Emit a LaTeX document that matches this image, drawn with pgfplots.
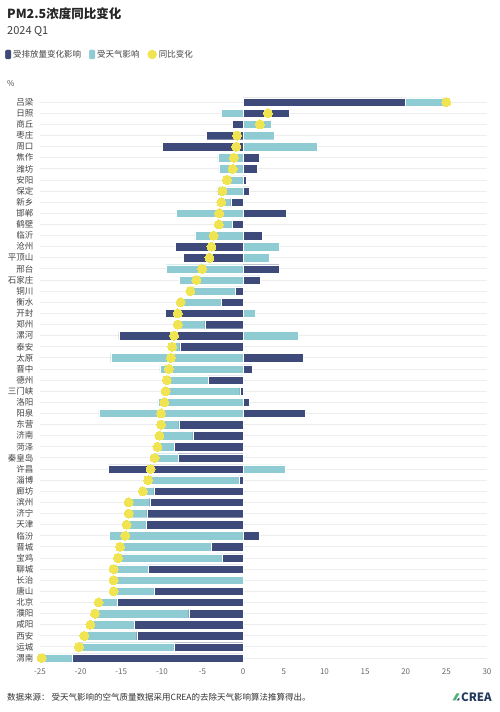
\documentclass[border=0pt]{standalone}
\usepackage{fontspec}
\setmainfont{Noto Sans CJK SC}
\usepackage{pgfplots}
\usepackage{pgfplotstable}
\pgfplotsset{compat=1.18}
\definecolor{darkc}{HTML}{3D4A7A}
\definecolor{lightc}{HTML}{8FCBD3}
\definecolor{yel}{HTML}{F0E452}
\definecolor{txt}{HTML}{444444}
\definecolor{tick}{HTML}{6A6A6A}
\definecolor{grd}{HTML}{EDEDED}
\definecolor{creag}{HTML}{4DB37A}
\definecolor{crean}{HTML}{23395D}

\pgfplotstableread{
i dark weather total
0 19.9 5.1 25.0
1 5.7 -2.65 3.05
2 -1.35 3.4 2.05
3 -4.55 3.8 -0.75
4 -9.95 9.1 -0.85
5 1.95 -3.1 -1.15
6 1.7 -3.0 -1.3
7 0.4 -2.4 -2.0
8 0.7 -3.25 -2.55
9 -1.5 -1.2 -2.7
10 5.3 -8.25 -2.95
11 -1.3 -1.7 -3.0
12 2.3 -5.95 -3.65
13 -8.35 4.45 -3.9
14 -7.4 3.25 -4.15
15 4.4 -9.45 -5.05
16 2.1 -7.85 -5.75
17 -1.0 -5.5 -6.5
18 -2.7 -5.0 -7.7
19 -9.55 1.5 -8.05
20 -4.7 -3.35 -8.05
21 -15.3 6.8 -8.5
22 -7.8 -0.95 -8.75
23 7.4 -16.3 -8.9
24 1.1 -10.25 -9.15
25 -4.3 -5.1 -9.4
26 -0.4 -9.15 -9.55
27 0.8 -10.5 -9.7
28 7.65 -17.75 -10.1
29 -7.9 -2.2 -10.1
30 -6.2 -4.1 -10.3
31 -8.5 -2.05 -10.55
32 -8.0 -2.9 -10.9
33 -16.6 5.2 -11.4
34 -0.5 -11.2 -11.7
35 -11.0 -1.35 -12.35
36 -11.5 -2.6 -14.1
37 -11.85 -2.25 -14.1
38 -11.95 -2.4 -14.35
39 2.0 -16.5 -14.5
40 -3.95 -11.2 -15.15
41 -2.6 -12.8 -15.4
42 -11.7 -4.25 -15.95
43 0.15 -16.1 -15.95
44 -10.95 -5.0 -15.95
45 -15.45 -2.35 -17.8
46 -6.7 -11.55 -18.25
47 -13.35 -5.45 -18.8
48 -13.1 -6.45 -19.55
49 -8.45 -11.75 -20.2
50 -21.05 -3.75 -24.8
}\data

\pgfplotsset{base/.style={
  scale only axis, width=447pt, height=567pt,
  at={(40pt,48.4pt)}, anchor=south west,
  xmin=-25, xmax=30, ymin=-0.5, ymax=50.5, y dir=reverse,
  axis line style={draw=none}, major tick length=0pt,
}}

\begin{document}
\begin{tikzpicture}
\path[use as bounding box, fill=white] (0,0) rectangle (500pt,712pt);

% axis 1: grid, labels, positive stacks
\begin{axis}[base,
  xbar stacked, bar width=8.4pt,
  ytick={0,...,50},
  yticklabels={吕梁,日照,商丘,枣庄,周口,焦作,潍坊,安阳,保定,新乡,邯郸,鹤壁,临沂,沧州,平顶山,邢台,石家庄,铜川,衡水,开封,郑州,漯河,泰安,太原,晋中,德州,三门峡,洛阳,阳泉,东营,济南,菏泽,秦皇岛,许昌,淄博,廊坊,滨州,济宁,天津,临汾,晋城,宝鸡,聊城,长治,唐山,北京,濮阳,咸阳,西安,运城,渭南},
  yticklabel style={font=\fontsize{8.5}{9}\selectfont, text=txt, inner sep=0pt, xshift=-6.5pt},
  xtick={-25,-20,...,30},
  xticklabel style={font=\fontsize{8}{9}\selectfont, text=tick, inner sep=0pt, yshift=-5pt},
  /pgf/number format/assume math mode=true,
  ymajorgrids, grid style={grd, line width=0.9pt},
]
\addplot[fill=darkc, draw=white, line width=0.4pt] table[x expr={max(\thisrow{dark},0)}, y=i]{\data};
\addplot[fill=lightc, draw=white, line width=0.4pt] table[x expr={max(\thisrow{weather},0)}, y=i]{\data};
\end{axis}

% axis 2: negative stacks
\begin{axis}[base, hide axis, xbar stacked, bar width=8.4pt]
\addplot[fill=darkc, draw=white, line width=0.4pt] table[x expr={min(\thisrow{dark},0)}, y=i]{\data};
\addplot[fill=lightc, draw=white, line width=0.4pt] table[x expr={min(\thisrow{weather},0)}, y=i]{\data};
\end{axis}

% axis 3: dots and legend
\begin{axis}[base, hide axis,
  legend columns=3,
  legend style={at={(-0.0783,1.0743)}, anchor=west, draw=none, fill=none,
    font=\fontsize{8.5}{10}\selectfont, text=txt, inner sep=0pt,
    /tikz/every even column/.append style={column sep=6pt}},
  legend cell align=left,
]
\addlegendimage{legend image code/.code={\fill[darkc, rounded corners=1.2pt] (0pt,-4.5pt) rectangle (5.5pt,4.5pt);}}
\addlegendentry{受排放量变化影响}
\addlegendimage{legend image code/.code={\fill[lightc, rounded corners=1.2pt] (0pt,-4.5pt) rectangle (5.5pt,4.5pt);}}
\addlegendentry{受天气影响}
\addlegendimage{legend image code/.code={\fill[yel] (3pt,0pt) circle (4.5pt);}}
\addlegendentry{同比变化}
\addplot[forget plot, only marks, mark=*, mark size=4.5pt, color=yel, fill=yel, draw=yel, line width=0pt] table[x=total, y=i]{\data};
\end{axis}

% texts
\node[anchor=west, inner sep=0pt, font=\fontsize{12.5}{14}\selectfont\bfseries, text=black!85] at (7pt,698pt) {PM2.5浓度同比变化};
\node[anchor=west, inner sep=0pt, font=\fontsize{11}{13}\selectfont, text=black!75] at (7pt,681pt) {2024 Q1};
\node[anchor=west, inner sep=0pt, font=\fontsize{8}{9}\selectfont, text=txt] at (7pt,628pt) {\%};
\node[anchor=west, inner sep=0pt, font=\fontsize{8.5}{10}\selectfont, text=black!80] at (7pt,15pt) {数据来源：\ 受天气影响的空气质量数据采用CREA的去除天气影响算法推算得出。};
\node[anchor=east, inner sep=0pt, font=\fontsize{11.5}{13}\selectfont\bfseries, text=crean] (crea) at (492pt,15pt) {CREA};
\fill[creag] ([xshift=-8.5pt,yshift=-3.5pt]crea.west) -- ++(4pt,7pt) -- ++(3pt,0) -- ++(-4pt,-7pt) -- cycle;
\fill[crean] ([xshift=-4.5pt,yshift=-3.5pt]crea.west) -- ++(3pt,0) -- ++(0,3pt) -- cycle;
\end{tikzpicture}
\end{document}
